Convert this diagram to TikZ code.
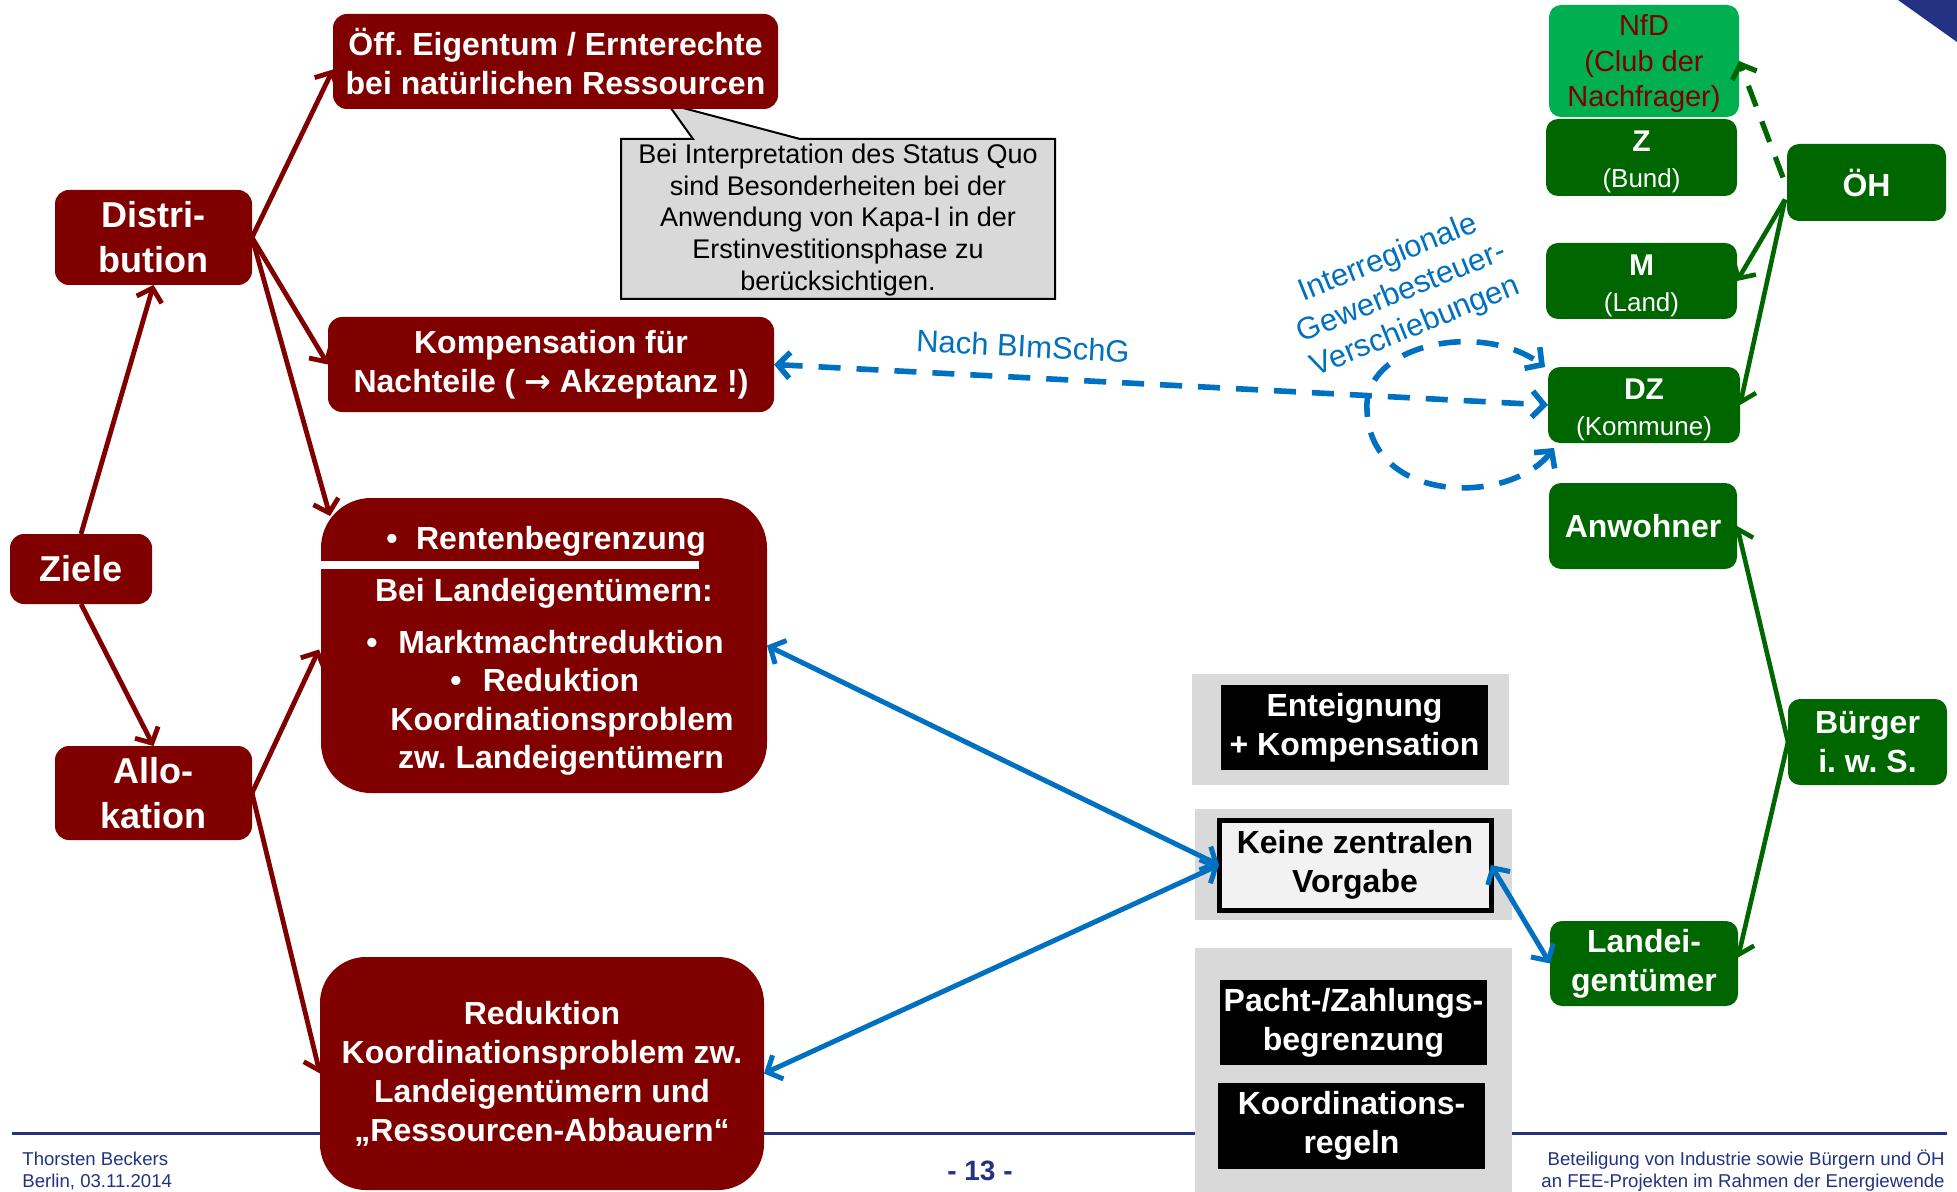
\documentclass[tikz,border=0pt]{standalone}
\usepackage{fontspec}
\setmainfont{Liberation Sans}
\newfontfamily\dejavu{DejaVu Sans}
\usetikzlibrary{arrows.meta,calc}
\definecolor{dred}{RGB}{128,0,0}
\definecolor{dgreen}{RGB}{0,102,0}
\definecolor{lgreen}{RGB}{0,176,80}
\definecolor{myblue}{RGB}{0,112,192}
\definecolor{navy}{RGB}{35,50,130}
\definecolor{lgray}{RGB}{217,217,217}
\definecolor{vlgray}{RGB}{242,242,242}
\newcommand\fs[2]{\fontsize{#1}{#2}\selectfont}
\begin{document}
\frenchspacing
\begin{tikzpicture}[x=0.5pt,y=-0.5pt,
  sz/.style 2 args={minimum width=#1*0.5pt, minimum height=#2*0.5pt},
  box/.style={inner sep=0pt, outer sep=0pt, align=center},
  redbox/.style={box, fill=dred, rounded corners=7pt, text=white, font=\bfseries\fs{16}{19.5}},
  bigred/.style={redbox, font=\bfseries\fs{18}{22.5}},
  greenbox/.style={box, fill=dgreen, rounded corners=6pt, text=white, font=\bfseries\fs{16}{19.5}},
  subgreen/.style={box, fill=dgreen, rounded corners=6pt, text=white, font=\fs{13}{18}},
  graybox/.style={box, fill=lgray},
  blackbox/.style={box, fill=black, text=white, font=\bfseries\fs{16}{19.5}},
  keinebox/.style={box, fill=vlgray, draw=black, line width=2.5pt, text=black, font=\bfseries\fs{16}{19.5}},
  rtext/.style={inner sep=0pt, text=white, font=\bfseries\fs{16}{19.5}, text height=11.5pt, text depth=0pt},
  footer/.style={inner sep=0pt, text=navy, font=\fs{9.3}{11}},
  redarrow/.style={draw=dred, line width=2.4pt, -{Straight Barb[length=6pt,width=13pt]}},
  greenarrow/.style={draw=dgreen, line width=2.3pt, -{Straight Barb[length=6pt,width=13pt]}},
  bluearrow/.style={draw=myblue, line width=2.5pt, {Straight Barb[length=6pt,width=13pt]}-{Straight Barb[length=6pt,width=13pt]}},
  bluedash/.style={bluearrow, line width=2.8pt, dash pattern=on 11pt off 8pt},
  greendash/.style={greenarrow, line width=2.6pt, dash pattern=on 11pt off 8pt}
]
\fill[white] (0,0) rectangle (1957,1192);
\useasboundingbox (0,0) rectangle (1957,1192);

% corner triangle and footer line
\fill[navy] (1898,0) -- (1957,0) -- (1957,42) -- cycle;
\draw[navy, line width=1.5pt] (12,1133) -- (1947,1133);

% callout
\draw[fill=lgray, line width=1pt] (621,139) -- (693,139) -- (668,104) -- (800,139) -- (1055,139) -- (1055,299) -- (621,299) -- cycle;
\node[font=\fs{13.5}{15.8}, align=center, inner sep=0pt] (callout) at (838,220)
  {Bei Interpretation des Status Quo\\sind Besonderheiten bei der\\Anwendung von Kapa-I in der\\Erstinvestitionsphase zu\\berücksichtigen.};

% red boxes
\node[redbox, sz={445}{95}] (Oeff) at (555.5,61.5) {Öff. Eigentum / Ernterechte\\bei natürlichen Ressourcen};
\node[bigred, sz={197}{95}] (Dist) at (153.5,237.5) {Distri-\\bution};
\node[bigred, sz={142}{70}] (Ziele) at (81,569) {Ziele};
\node[bigred, sz={197}{94}] (Allo) at (153.5,793) {Allo-\\kation};
\node[redbox, sz={446}{95}] (Komp) at (551,364.5) {Kompensation für\\Nachteile ( {\dejavu\bfseries →} Akzeptanz !)};
\node[redbox, rounded corners=25pt, sz={446}{295}] (Rente) at (544,645.5) {};
\fill[white] (321,561) rectangle (699,569);
\node[rtext] (rb1) at (392,538) {•};
\node[rtext] (rt1) at (561,538) {Rentenbegrenzung};
\node[rtext] (rt2) at (544,590) {Bei Landeigentümern:};
\node[rtext] (rb2) at (372,642) {•};
\node[rtext] (rt3) at (561,642) {Marktmachtreduktion};
\node[rtext] (rb3) at (456,680) {•};
\node[rtext] (rt4) at (561,680) {Reduktion};
\node[rtext] (rt5) at (562,719) {Koordinationsproblem};
\node[rtext] (rt6) at (561,757) {zw. Landeigentümern};
\node[redbox, rounded corners=23pt, sz={444}{233}] (Red) at (542,1073.5) {Reduktion\\Koordinationsproblem zw.\\Landeigentümern und\\„Ressourcen-Abbauern“};

% gray / black boxes
\node[graybox, sz={317}{111}] (G1) at (1350.5,729.5) {};
\node[blackbox, sz={267}{85}] (Ent) at (1354.5,727.5) {Enteignung\\+ Kompensation};
\node[graybox, sz={317}{111}] (G2) at (1353.5,864.5) {};
\node[keinebox, sz={272}{90}] (Keine) at (1355,865) {Keine zentralen\\Vorgabe};
\node[graybox, sz={317}{244}] (G3) at (1353.5,1070) {};
\node[blackbox, sz={267}{85}] (Pacht) at (1353.5,1022.5) {Pacht-/Zahlungs-\\begrenzung};
\node[blackbox, sz={267}{86}] (Koord) at (1351.5,1126) {Koordinations-\\regeln};

% green boxes
\node[box, fill=lgreen, rounded corners=6pt, text=dred, font=\fs{14.5}{17.8}, sz={190}{112}] (NfD) at (1644,61) {\rule{0pt}{13.4pt}NfD\\(Club der\\Nachfrager)};
\node[subgreen, sz={191}{77}] (Z) at (1641.5,157.5) {\rule{0pt}{14.7pt}{\bfseries\fs{15}{18}Z}\\(Bund)};
\node[subgreen, sz={191}{76}] (M) at (1641.5,281) {\rule{0pt}{14.7pt}{\bfseries\fs{15}{18}M}\\(Land)};
\node[subgreen, sz={192}{76}] (DZ) at (1644,405) {\rule{0pt}{15.5pt}{\bfseries\fs{15}{18}DZ}\\(Kommune)};
\node[greenbox, sz={159}{77}] (OH) at (1866.5,182.5) {ÖH};
\node[greenbox, sz={188}{86}] (Anw) at (1643,526) {Anwohner};
\node[greenbox, sz={159}{86}] (Buerger) at (1867.5,742) {Bürger\\i. w. S.};
\node[greenbox, sz={188}{85}] (Landei) at (1644,963.5) {Landei-\\gentümer};

% labels
\node[text=myblue, font=\fs{15.5}{18.5}, rotate=-3, inner sep=0pt] (lblA) at (1023,346) {Nach BImSchG};
\node[text=myblue, font=\fs{15.5}{18.5}, rotate=22, align=center, inner sep=0pt] (lblB) at (1402,293) {Interregionale\\Gewerbesteuer-\\Verschiebungen};

% red arrows
\draw[redarrow] (Ziele.north) -- (Dist.south);
\draw[redarrow] (Ziele.south) -- (Allo.north);
\draw[redarrow] (Dist.east) -- ($(Oeff.west)+(0,8)$);
\draw[redarrow] (Dist.east) -- (Komp.west);
\draw[redarrow] (Dist.east) -- ($(Rente.north west)+(9,18)$);
\draw[redarrow] (Allo.east) -- ($(Rente.west)+(-2,4)$);
\draw[redarrow] (Allo.east) -- (Red.west);

% blue arrows
\draw[bluearrow] (Rente.east) -- (Keine.west);
\draw[bluearrow] (Red.east) -- (Keine.west);
\draw[bluearrow] (Keine.east) -- (Landei.west);
\draw[bluedash] (Komp.east) -- (DZ.west);
\coordinate (loopL) at (1367,410);
\draw[bluedash] ($(DZ.south west)+(6,5)$) .. controls (1510,505) and (1370,505) .. (loopL)
   .. controls (1362,345) and (1480,320) .. ($(DZ.north west)+(-3,0)$);

% green arrows
\draw[greenarrow] ($(OH.west)+(-2,17)$) -- (M.east);
\draw[greenarrow] ($(OH.west)+(-2,17)$) -- (DZ.east);
\draw[greendash] ($(OH.west)+(-4,-5)$) -- (NfD.east);
\draw[greenarrow] (Buerger.west) -- (Anw.east);
\draw[greenarrow] (Buerger.west) -- ($(Landei.east)+(0,-6)$);

% footer
\node[footer, anchor=base west] (ft1) at (22,1165) {Thorsten Beckers};
\node[footer, anchor=base west] (ft2) at (22,1187) {Berlin, 03.11.2014};
\node[footer, anchor=base east] (ft3) at (1945,1165) {Beteiligung von Industrie sowie Bürgern und ÖH};
\node[footer, anchor=base east] (ft4) at (1945,1187) {an FEE-Projekten im Rahmen der Energiewende};
\node[text=navy, font=\bfseries\fs{14}{16}, inner sep=0pt] (page) at (980,1171) {- 13 -};
\end{tikzpicture}
\end{document}
